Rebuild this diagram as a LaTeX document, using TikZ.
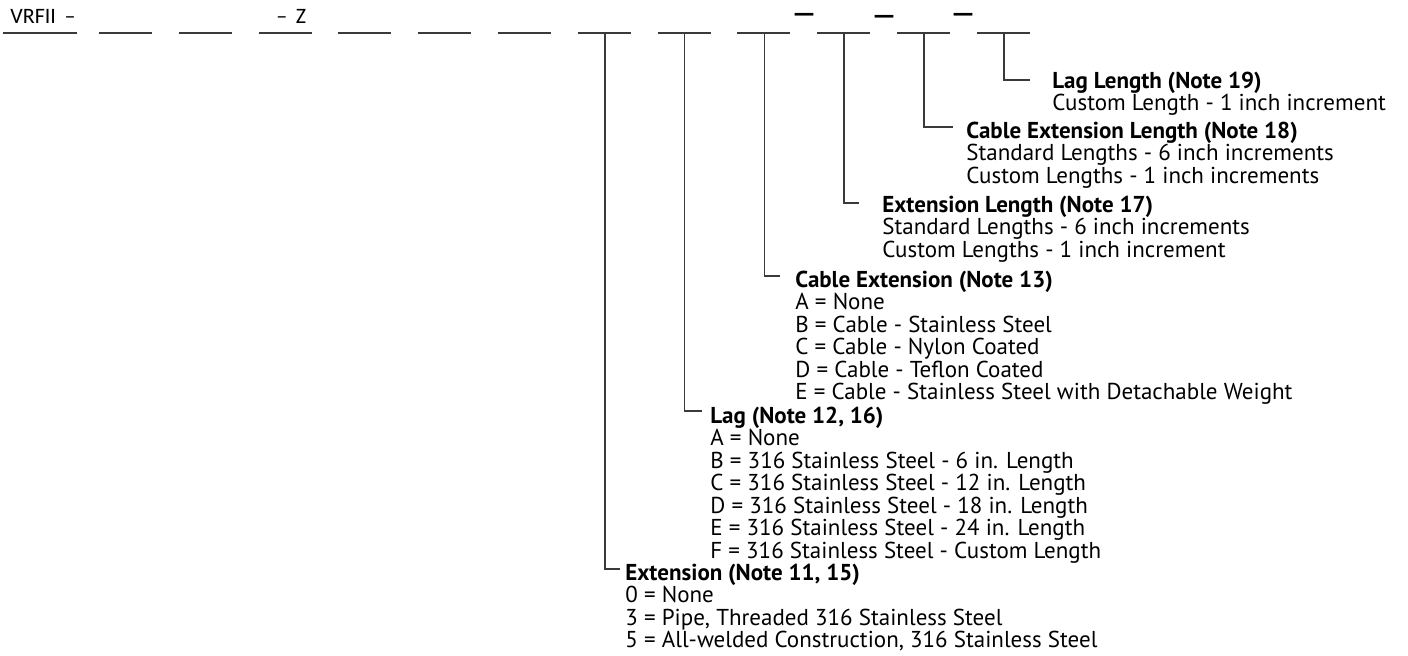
\documentclass[tikz,border=0pt]{standalone}
\usepackage{fontspec}
\setmainfont{PT Sans}
\newfontfamily\codefont{Carlito}
\newfontfamily\dashfont{DejaVu Sans}
\usepackage{xcolor}
\usetikzlibrary{positioning}
\definecolor{Rule}{HTML}{3A3A3A}
\newcommand{\hdr}[1]{\rule{0pt}{9pt}\textbf{#1}}

\begin{document}
\begin{tikzpicture}[x=0.5pt, y=-0.5pt,
  blank/.style={draw=Rule, line width=0.75pt},
  conn/.style={draw=Rule, line width=0.75pt},
  code/.style={inner sep=0pt, anchor=base west, font=\codefont\fontsize{11}{13}\selectfont},
  sep/.style={inner sep=0pt, anchor=base, font=\dashfont\bfseries\fontsize{10.5}{12}\selectfont},
  opt/.style={inner sep=0pt, anchor=north west, align=left,
              font=\fontsize{11.5}{11.25}\selectfont}
]
\useasboundingbox (0,0) rectangle (1408,656);

% model code line
\draw[blank] (3,33) -- (77,33);
\foreach \i [evaluate=\i as \xa using 99+79.8*(\i-2)] in {2,...,13} {
  \draw[blank] (\xa,33) -- ++(53,0);
  \coordinate (u\i) at (\xa+27,33);
}
\node[code] (vrf) at (10,24) {VRFII \,–};
\node[code] (zc) at (276,24) {– \,Z};
\node[sep] (d1) at (804,21) {—};
\node[sep] (d2) at (884,23) {—};
\node[sep] (d3) at (963,21) {—};

% options
\node[opt] (laglen) at (1052,70) {\hdr{Lag Length (Note 19)}\\
  Custom Length - 1 inch increment};
\node[opt] (cablen) at (966,120) {\hdr{Cable Extension Length (Note 18)}\\
  Standard Lengths - 6 inch increments\\
  Custom Lengths - 1 inch increments};
\node[opt] (extlen) at (882,194) {\hdr{Extension Length (Note 17)}\\
  Standard Lengths - 6 inch increments\\
  Custom Lengths - 1 inch increment};
\node[opt] (cable) at (795,269) {\hdr{Cable Extension (Note 13)}\\
  A = None\\
  B = Cable - Stainless Steel\\
  C = Cable - Nylon Coated\\
  D = Cable - Teflon Coated\\
  E = Cable - Stainless Steel with Detachable Weight};
\node[opt] (lag) at (710,405) {\hdr{Lag (Note 12, 16)}\\
  A = None\\
  B = 316 Stainless Steel - 6 in. Length\\
  C = 316 Stainless Steel - 12 in. Length\\
  D = 316 Stainless Steel - 18 in. Length\\
  E = 316 Stainless Steel - 24 in. Length\\
  F = 316 Stainless Steel - Custom Length};
\node[opt] (ext) at (625,562) {\hdr{Extension (Note 11, 15)}\\
  0 = None\\
  3 = Pipe, Threaded 316 Stainless Steel\\
  5 = All-welded Construction, 316 Stainless Steel};

\draw[conn] (u8) |- ([xshift=-2.5pt,yshift=-3.5pt]ext.north west);
\draw[conn] (u9) |- ([xshift=-4pt,yshift=-3pt]lag.north west);
\draw[conn] (u10) |- ([xshift=-7.5pt,yshift=-3.5pt]cable.north west);
\draw[conn] (u11) |- ([xshift=-11.5pt,yshift=-4.5pt]extlen.north west);
\draw[conn] (u12) |- ([xshift=-6.5pt,yshift=-3.5pt]cablen.north west);
\draw[conn] (u13) |- ([xshift=-11pt,yshift=-5pt]laglen.north west);
\end{tikzpicture}
\end{document}
